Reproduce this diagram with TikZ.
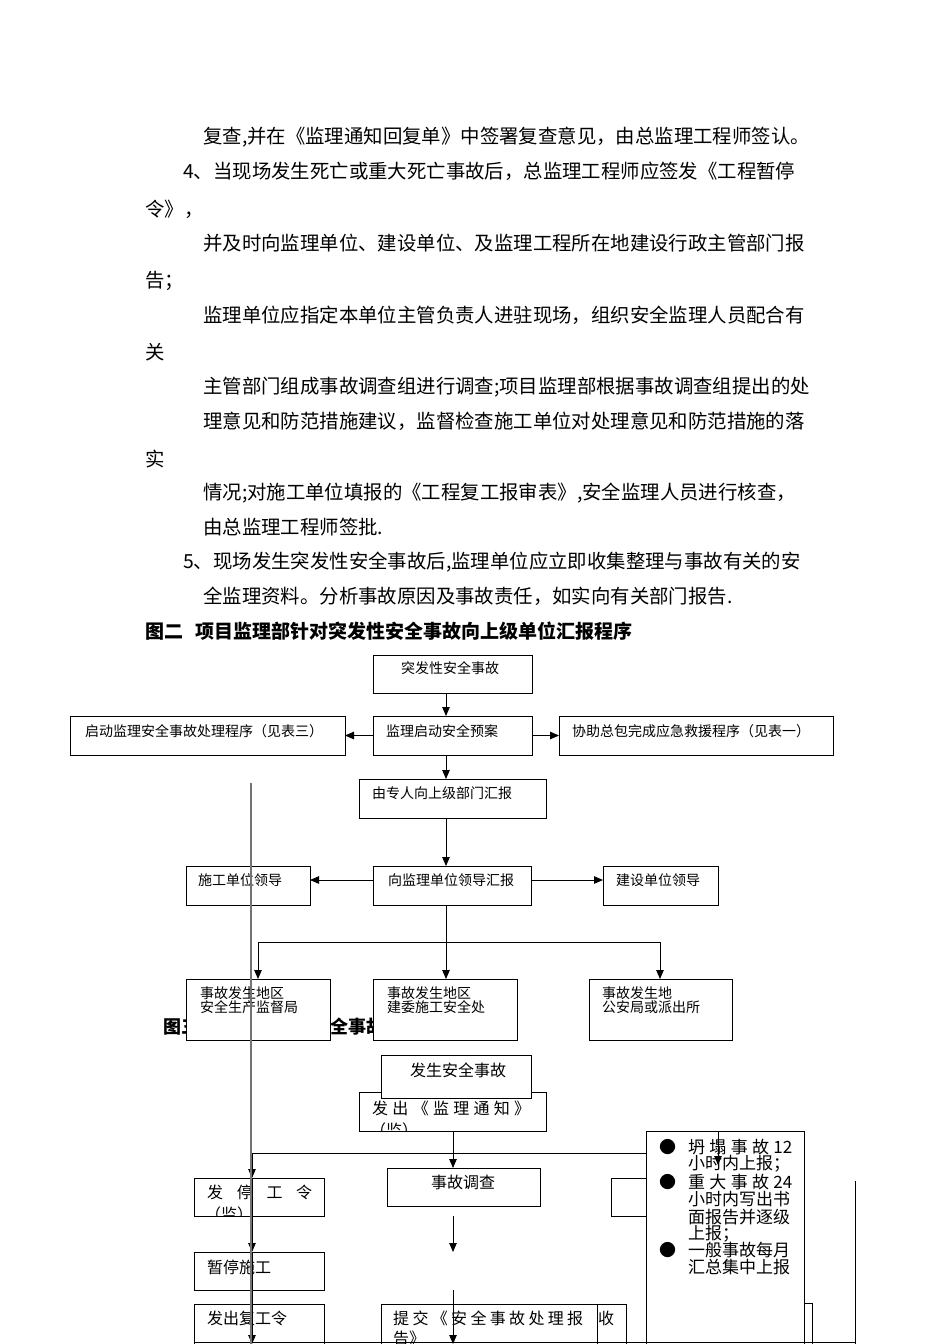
\documentclass[tikz,border=0pt]{standalone}
\usepackage{fontspec}
\setmainfont{Noto Sans CJK SC}
\usetikzlibrary{arrows.meta}
\XeTeXlinebreaklocale "zh"
\XeTeXlinebreakskip=0pt plus 3pt
\newcommand{\jline}[2]{\makebox[#1][s]{#2}}
\begin{document}
\begin{tikzpicture}[x=1pt,y=-1pt,
 box/.style={draw, line width=0.9pt, fill=white, anchor=north west, inner sep=0pt, outer sep=0pt},
 arr/.style={line width=0.9pt, -{Triangle[length=9pt,width=7.5pt]}},
 arrs/.style={line width=0.9pt, {Triangle[length=9pt,width=7.5pt]}-{Triangle[length=9pt,width=7.5pt]}},
 plain/.style={line width=0.9pt},
 body/.style={anchor=west, inner sep=0pt, font=\fontsize{19.4}{19.4}\selectfont},
 jbody/.style={body, align=justify},
 ttl/.style={anchor=west, inner sep=0pt, font=\fontsize{19}{19}\selectfont\bfseries},
 ta/.style={anchor=west, inner sep=0pt, font=\fontsize{14}{14}\selectfont},
 tb/.style={anchor=west, inner sep=0pt, font=\fontsize{16}{16}\selectfont},
 tk/.style={anchor=west, inner sep=0pt, font=\fontsize{17}{17}\selectfont},
]
\useasboundingbox[fill=white] (0,0) rectangle (950,1344);
% ---------- body text ----------
\node[body] (p1) at (203,137) {复查,并在《监理通知回复单》中签署复查意见，由总监理工程师签认。};
\node[jbody, text width=622pt] (p2) at (183,171) {\parfillskip=0pt\relax 4、当现场发生死亡或重大死亡事故后，总监理工程师应签发《工程暂停};
\node[body] (p3) at (145,209) {令》，};
\node[jbody, text width=602pt] (p4) at (203,243) {\parfillskip=0pt\relax 并及时向监理单位、建设单位、及监理工程所在地建设行政主管部门报};
\node[body] (p5) at (145,281) {告；};
\node[jbody, text width=602pt] (p6) at (203,315) {\parfillskip=0pt\relax 监理单位应指定本单位主管负责人进驻现场，组织安全监理人员配合有};
\node[body] (p7) at (145,352) {关};
\node[body] (p8) at (203,387) {主管部门组成事故调查组进行调查;项目监理部根据事故调查组提出的处};
\node[jbody, text width=602pt] (p9) at (203,421) {\parfillskip=0pt\relax 理意见和防范措施建议，监督检查施工单位对处理意见和防范措施的落};
\node[body] (p10) at (145,459) {实};
\node[body] (p11) at (203,493) {情况;对施工单位填报的《工程复工报审表》,安全监理人员进行核查，};
\node[body] (p12) at (203,527) {由总监理工程师签批.};
\node[body] (p13) at (183,562) {5、现场发生突发性安全事故后,监理单位应立即收集整理与事故有关的安};
\node[body] (p14) at (203,596) {全监理资料。分析事故原因及事故责任，如实向有关部门报告.};
\node[ttl] (t2) at (145,631) {图二\hspace{12pt}项目监理部针对突发性安全事故向上级单位汇报程序};
% ---------- figure 3 (behind) ----------
\node[ttl, font=\fontsize{18}{18}\selectfont\bfseries] (t3) at (163,1027) {图三\hspace{5pt}项目监理部对安全事故处理程序};
\node[box, minimum width=187pt, minimum height=39pt] (N) at (359,1092) {};
\begin{scope}
\clip (N.south west) rectangle (N.north east);
\node[tb] (Nt) at (372,1108) {\jline{158pt}{发 出 《 监 理 通 知 》}};
\node[tb] (Nt2) at (370,1130) {（监）};
\end{scope}
\node[box, minimum width=150pt, minimum height=43pt] (S) at (381,1055) {};
\node[tb] (St) at (410,1070) {发生安全事故};
\node[box, minimum width=153pt, minimum height=38pt] (Q) at (387,1168) {};
\node[tb] (Qt) at (431,1182) {事故调查};
\node[box, minimum width=130pt, minimum height=38pt] (P) at (194,1178) {};
\begin{scope}
\clip (P.south west) rectangle (P.north east);
\node[tb] (Pt) at (207,1192) {\jline{105pt}{发 停 工 令}};
\node[tb] (Pt2) at (205,1214) {（监）};
\end{scope}
\node[box, minimum width=130pt, minimum height=38pt] (T) at (194,1252) {};
\node[tb] (Tt) at (207,1267) {暂停施工};
\node[box, minimum width=130pt, minimum height=40pt] (U) at (194,1304) {};
\node[tb] (Ut) at (207,1318) {发出复工令};
\node[box, minimum width=216pt, minimum height=40pt] (V) at (381,1304) {};
\begin{scope}
\clip (V.south west) rectangle (V.north east);
\node[tb] (Vt) at (393,1318) {\jline{190pt}{提 交 《 安 全 事 故 处 理 报}};
\node[tb] (Vt2) at (393,1338) {告》};
\end{scope}
\node[box, minimum width=29pt, minimum height=40pt] (W) at (597,1304) {};
\node[tb] (Wt) at (598,1318) {收};
\node[box, minimum width=40pt, minimum height=38pt] (X) at (611,1178) {};
\node[box, minimum width=158pt, minimum height=213pt] (K) at (646,1131) {};
\node[box, minimum width=8pt, minimum height=41pt] (Y) at (804,1303) {};
\node[tk] (b1) at (659,1147) {●};
\node[tk] (b2) at (659,1182) {●};
\node[tk] (b3) at (659,1250) {●};
\node[tk] (k1) at (688,1147) {\jline{104pt}{坍 塌 事 故 12}};
\node[tk] (k2) at (688,1164) {小时内上报；};
\node[tk] (k3) at (688,1182) {\jline{104pt}{重 大 事 故 24}};
\node[tk] (k4) at (688,1199) {小时内写出书};
\node[tk] (k5) at (688,1217) {面报告并逐级};
\node[tk] (k6) at (688,1234) {上报；};
\node[tk] (k7) at (688,1250) {一般事故每月};
\node[tk] (k8) at (688,1267) {汇总集中上报};
% figure 3 connectors
\coordinate (h1) at (252,1153);
\coordinate (mx) at (453,0);
\coordinate (m1) at (453,1216);
\coordinate (m2) at (453,1252);
\coordinate (m3) at (453,1290);
\coordinate (m4) at (453,1344);
\coordinate (bot1) at (252,1344);
\coordinate (ka) at (718,1165);
\coordinate (rv1) at (855,1181);
\coordinate (rv2) at (855,1344);
\coordinate (bl1) at (194,1342.5);
\coordinate (bl2) at (855,1342.5);
\draw[plain] (h1) -- (h1 -| K.west);
\draw[arr] (h1) -- (P.north -| h1);
\draw[arr] (P.north -| h1) -- (T.north -| h1);
\draw[arr] (T.north -| h1) -- (bot1);
\draw[arr] (N.south -| mx) -- (Q.north -| mx);
\draw[arr] (m1) -- (m2);
\draw[arr] (m3) -- (m4);
\draw[arr] (K.north -| ka) -- (ka);
\draw[plain] (rv1) -- (rv2);
\draw[line width=1.6pt] (bl1) -- (bl2);
% ---------- figure 2 ----------
\node[box, minimum width=159pt, minimum height=38pt] (A) at (373,655) {};
\node[box, minimum width=159pt, minimum height=39pt] (B) at (373,716) {};
\node[box, minimum width=275pt, minimum height=39pt] (L) at (70,716) {};
\node[box, minimum width=274pt, minimum height=39pt] (R) at (559,716) {};
\node[box, minimum width=187pt, minimum height=39pt] (C) at (359,779) {};
\node[box, minimum width=158pt, minimum height=39pt] (D) at (373,866) {};
\node[box, minimum width=124pt, minimum height=39pt] (E) at (186,866) {};
\node[box, minimum width=115pt, minimum height=39pt] (F) at (603,866) {};
\node[box, minimum width=144pt, minimum height=61pt] (G) at (186,979) {};
\node[box, minimum width=144pt, minimum height=61pt] (H) at (373,979) {};
\node[box, minimum width=143pt, minimum height=61pt] (I) at (589,979) {};
\node[ta] (At) at (401,668) {突发性安全事故};
\node[ta] (Bt) at (386,731) {监理启动安全预案};
\node[ta] (Lt) at (85,731) {启动监理安全事故处理程序（见表三）};
\node[ta] (Rt) at (572,731) {协助总包完成应急救援程序（见表一）};
\node[ta] (Ct) at (372,793) {由专人向上级部门汇报};
\node[ta] (Dt) at (388,880) {向监理单位领导汇报};
\node[ta] (Et) at (198,880) {施工单位领导};
\node[ta] (Ft) at (616,880) {建设单位领导};
\node[ta] (Gt1) at (200,993) {事故发生地区};
\node[ta] (Gt2) at (200,1007) {安全生产监督局};
\node[ta] (Ht1) at (387,993) {事故发生地区};
\node[ta] (Ht2) at (387,1007) {建委施工安全处};
\node[ta] (It1) at (602,993) {事故发生地};
\node[ta] (It2) at (602,1007) {公安局或派出所};
\coordinate (ax) at (446,0);
\coordinate (ay) at (0,880);
\coordinate (brL) at (258,942);
\coordinate (brR) at (660,942);
\draw[arr] (A.south -| ax) -- (B.north -| ax);
\draw[arr] (B.west) -- (L.east);
\draw[arr] (B.east) -- (R.west);
\draw[arr] (B.south -| ax) -- (C.north -| ax);
\draw[arr] (C.south -| ax) -- (D.north -| ax);
\draw[arr] (D.west |- ay) -- (E.east |- ay);
\draw[arr] (D.east |- ay) -- (F.west |- ay);
\draw[arr] (D.south -| ax) -- (H.north -| ax);
\draw[arrs] (G.north -| brL) |- (brR) -- (I.north -| brR);
% gray long line
\coordinate (g1) at (251,783);
\coordinate (g2) at (251,1344);
\draw[line width=1.3pt, black!55] (g1) -- (g2);
\end{tikzpicture}
\end{document}
